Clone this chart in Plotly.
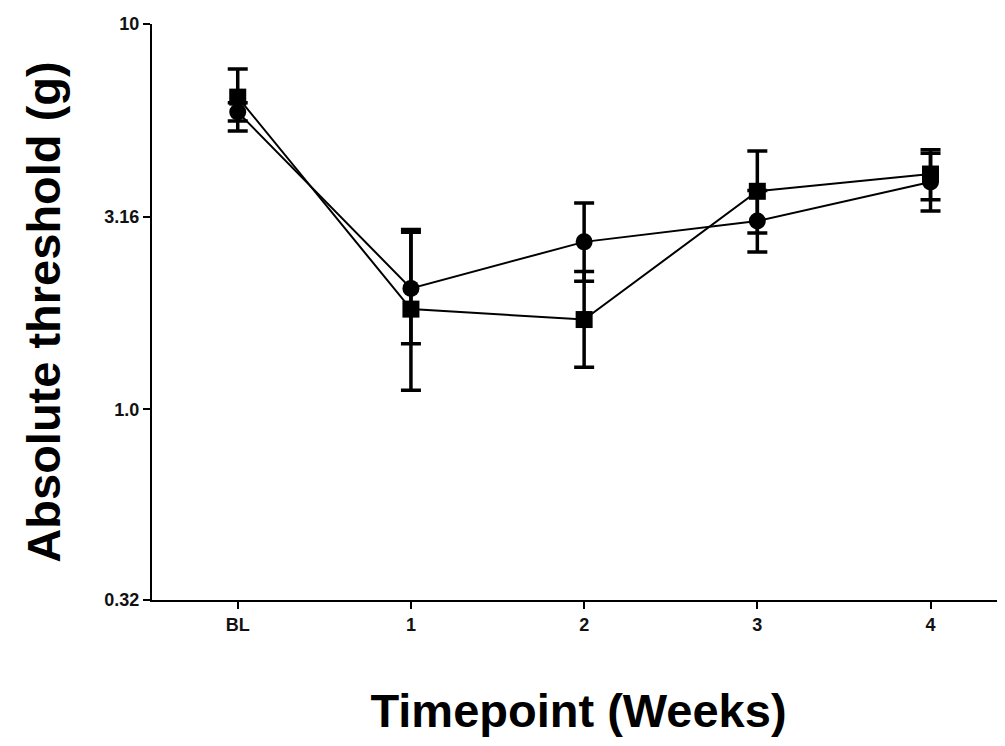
import math
import plotly.graph_objects as go

timepoints = ["BL", "1", "2", "3", "4"]

# Circle series (mean, upper bar end, lower bar end)
circle_mean = [5.91, 2.06, 2.72, 3.08, 3.89]
circle_upper = [6.25, 2.88, 3.43, 3.70, 4.62]
circle_lower = [5.60, 1.48, 2.15, 2.56, 3.27]

# Square series (mean, upper bar end, lower bar end)
square_mean = [6.46, 1.82, 1.71, 3.68, 4.08]
square_upper = [7.64, 2.93, 2.28, 4.68, 4.72]
square_lower = [5.28, 1.12, 1.285, 2.87, 3.50]

ytick_vals = [0.32, 1.0, 3.16, 10]
ytick_text = ["0.32", "1.0", "3.16", "10"]

fig = go.Figure()


def add_series(mean, upper, lower, symbol):
    fig.add_trace(go.Scatter(
        x=timepoints, y=mean, mode="lines+markers",
        line=dict(color="black", width=2),
        marker=dict(symbol=symbol, size=17, color="black"),
        error_y=dict(type="data", symmetric=False,
                     array=[u - m for u, m in zip(upper, mean)],
                     arrayminus=[m - l for m, l in zip(mean, lower)],
                     color="black", thickness=3.5, width=10),
        showlegend=False,
    ))


add_series(circle_mean, circle_upper, circle_lower, "circle")
add_series(square_mean, square_upper, square_lower, "square")

fig.update_layout(
    width=997, height=730,
    margin=dict(l=144, r=0, t=16, b=138),
    paper_bgcolor="white", plot_bgcolor="white",
    font=dict(family="Liberation Sans", color="black"),
    xaxis=dict(
        type="category", range=[-0.495, 4.43], automargin=False,
        showline=True, linecolor="black", linewidth=2,
        ticks="outside", ticklen=7, tickwidth=2, tickcolor="black",
        showgrid=False, zeroline=False,
        tickfont=dict(size=18, weight="bold", color="#111"),
        title=dict(text="Timepoint (Weeks)",
                   font=dict(size=47, weight="bold"), standoff=61),
    ),
    yaxis=dict(
        type="log", range=[math.log10(0.32), 1.0], automargin=False,
        tickvals=ytick_vals, ticktext=ytick_text,
        showline=True, linecolor="black", linewidth=2,
        ticks="outside", ticklen=7, tickwidth=2, tickcolor="black",
        showgrid=False, zeroline=False,
        tickfont=dict(size=18, weight="bold", color="#111"),
        title=dict(text="Absolute threshold (g)",
                   font=dict(size=47, weight="bold"), standoff=29),
    ),
)

fig.write_html("out.html")
